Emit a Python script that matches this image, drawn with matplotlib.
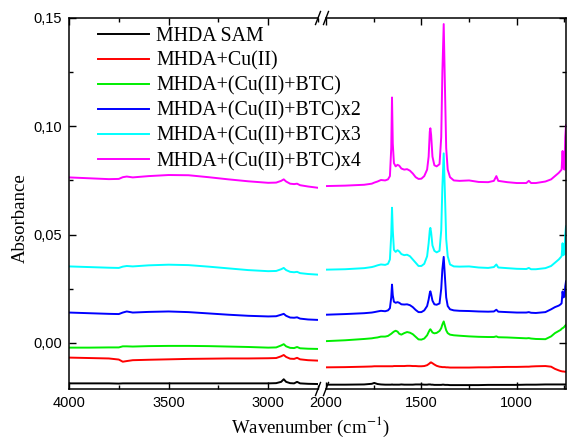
import numpy as np
import matplotlib
matplotlib.use("Agg")
import matplotlib.pyplot as plt
from matplotlib.ticker import MultipleLocator, FuncFormatter

plt.rcParams["font.family"] = ["Liberation Sans", "DejaVu Sans"]
plt.rcParams["mathtext.fontset"] = "stix"

labels = ["MHDA SAM", "MHDA+Cu(II)", "MHDA+(Cu(II)+BTC)", "MHDA+(Cu(II)+BTC)x2",
          "MHDA+(Cu(II)+BTC)x3", "MHDA+(Cu(II)+BTC)x4"]
colors = ["#000000", "#ff0000", "#00ee00", "#0000ff", "#00ffff", "#ff00ff"]

# high-wavenumber segment (4000 - 2750 cm-1)
wn_hi = [4000, 3900, 3800, 3750, 3730, 3710, 3680, 3600, 3500, 3400, 3300, 3200,
         3100, 3000, 2960, 2935, 2922, 2910, 2890, 2870, 2855, 2840, 2800, 2750]
black_hi = [-0.0187, -0.0187, -0.0187, -0.0188, -0.0187, -0.0187, -0.0187, -0.0187, -0.0187, -0.0187, -0.0187, -0.0187,
            -0.0187, -0.0187, -0.0186, -0.0180, -0.0168, -0.0180, -0.0186, -0.0187, -0.0180, -0.0187, -0.0189, -0.0190]
red_hi = [-0.0068, -0.0070, -0.0072, -0.0077, -0.0087, -0.0084, -0.0080, -0.0078, -0.0076, -0.0074, -0.0073, -0.0072,
          -0.0072, -0.0071, -0.0070, -0.0062, -0.0056, -0.0065, -0.0073, -0.0074, -0.0069, -0.0076, -0.0080, -0.0082]
green_hi = [-0.0022, -0.0022, -0.0021, -0.0021, -0.0016, -0.0016, -0.0017, -0.0015, -0.0014, -0.0014, -0.0015, -0.0017,
            -0.0019, -0.0022, -0.0021, -0.0012, -0.0006, -0.0016, -0.0023, -0.0024, -0.0019, -0.0025, -0.0027, -0.0028]
blue_hi = [0.0140, 0.0137, 0.0134, 0.0133, 0.0140, 0.0145, 0.0140, 0.0143, 0.0145, 0.0142, 0.0136, 0.0130,
           0.0125, 0.0122, 0.0123, 0.0130, 0.0134, 0.0125, 0.0117, 0.0116, 0.0118, 0.0112, 0.0108, 0.0106]
cyan_hi = [0.0353, 0.0350, 0.0347, 0.0346, 0.0352, 0.0355, 0.0353, 0.0358, 0.0361, 0.0359, 0.0352, 0.0344,
           0.0336, 0.0331, 0.0332, 0.0340, 0.0346, 0.0336, 0.0328, 0.0326, 0.0328, 0.0322, 0.0318, 0.0315]
magenta_hi = [0.0764, 0.0760, 0.0756, 0.0757, 0.0765, 0.0768, 0.0764, 0.0770, 0.0775, 0.0774, 0.0765, 0.0755,
              0.0746, 0.0739, 0.0740, 0.0748, 0.0755, 0.0745, 0.0735, 0.0733, 0.0735, 0.0728, 0.0722, 0.0716]

# low-wavenumber segment (2000 - 742 cm-1)
wn_lo = [2000, 1900, 1800, 1760, 1747, 1730, 1712, 1690, 1675, 1665,
         1658, 1654, 1650, 1644, 1635, 1625, 1616, 1605, 1590, 1575,
         1560, 1545, 1530, 1515, 1500, 1485, 1470, 1462, 1456, 1453,
         1449, 1442, 1432, 1420, 1405, 1396, 1390, 1383, 1377, 1370,
         1362, 1350, 1330, 1300, 1250, 1200, 1150, 1120, 1107, 1097,
         1050, 1000, 950, 937, 925, 900, 850, 820, 800, 780,
         770, 765, 760, 756, 750, 746, 742]
black_lo = [-0.0193, -0.0193, -0.0192, -0.0189, -0.0185, -0.0190, -0.0192, -0.0193, -0.0193, -0.0193,
            -0.0193, -0.0192, -0.0193, -0.0193, -0.0193, -0.0193, -0.0193, -0.0192, -0.0193, -0.0193,
            -0.0193, -0.0193, -0.0192, -0.0192, -0.0192, -0.0193, -0.0193, -0.0192, -0.0192, -0.0192,
            -0.0193, -0.0193, -0.0194, -0.0194, -0.0194, -0.0194, -0.0193, -0.0193, -0.0194, -0.0194,
            -0.0194, -0.0195, -0.0195, -0.0195, -0.0195, -0.0195, -0.0194, -0.0194, -0.0194, -0.0194,
            -0.0194, -0.0194, -0.0193, -0.0193, -0.0193, -0.0193, -0.0192, -0.0192, -0.0192, -0.0192,
            -0.0192, -0.0192, -0.0192, -0.0192, -0.0192, -0.0192, -0.0192]
red_lo = [-0.0113, -0.0112, -0.0110, -0.0109, -0.0108, -0.0108, -0.0108, -0.0108, -0.0108, -0.0108,
          -0.0108, -0.0108, -0.0108, -0.0107, -0.0107, -0.0107, -0.0107, -0.0107, -0.0107, -0.0106,
          -0.0106, -0.0107, -0.0107, -0.0108, -0.0108, -0.0107, -0.0103, -0.0098, -0.0094, -0.0091,
          -0.0090, -0.0094, -0.0100, -0.0106, -0.0110, -0.0111, -0.0112, -0.0112, -0.0112, -0.0113,
          -0.0113, -0.0114, -0.0114, -0.0114, -0.0114, -0.0113, -0.0113, -0.0112, -0.0112, -0.0112,
          -0.0111, -0.0111, -0.0110, -0.0110, -0.0109, -0.0108, -0.0107, -0.0110, -0.0120, -0.0127,
          -0.0130, -0.0131, -0.0132, -0.0132, -0.0133, -0.0133, -0.0133]
green_lo = [0.0008, 0.0012, 0.0018, 0.0021, 0.0023, 0.0025, 0.0029, 0.0029, 0.0032, 0.0038,
            0.0042, 0.0045, 0.0048, 0.0052, 0.0056, 0.0052, 0.0042, 0.0038, 0.0045, 0.0050,
            0.0047, 0.0040, 0.0028, 0.0016, 0.0015, 0.0020, 0.0035, 0.0050, 0.0060, 0.0063,
            0.0058, 0.0048, 0.0044, 0.0046, 0.0055, 0.0068, 0.0085, 0.0099, 0.0080, 0.0058,
            0.0045, 0.0038, 0.0035, 0.0033, 0.0030, 0.0028, 0.0027, 0.0027, 0.0030, 0.0026,
            0.0025, 0.0023, 0.0021, 0.0022, 0.0020, 0.0018, 0.0017, 0.0030, 0.0045, 0.0055,
            0.0060, 0.0065, 0.0068, 0.0070, 0.0075, 0.0080, 0.0083]
blue_lo = [0.0130, 0.0133, 0.0137, 0.0140, 0.0142, 0.0145, 0.0148, 0.0146, 0.0150, 0.0160,
           0.0210, 0.0269, 0.0220, 0.0190, 0.0185, 0.0188, 0.0185, 0.0178, 0.0177, 0.0178,
           0.0174, 0.0165, 0.0152, 0.0142, 0.0142, 0.0150, 0.0170, 0.0200, 0.0230, 0.0238,
           0.0225, 0.0195, 0.0178, 0.0176, 0.0182, 0.0250, 0.0340, 0.0397, 0.0310, 0.0210,
           0.0170, 0.0155, 0.0150, 0.0148, 0.0147, 0.0145, 0.0144, 0.0145, 0.0153, 0.0144,
           0.0142, 0.0140, 0.0140, 0.0142, 0.0139, 0.0138, 0.0142, 0.0155, 0.0165, 0.0172,
           0.0178, 0.0183, 0.0237, 0.0210, 0.0214, 0.0260, 0.0284]
cyan_lo = [0.0338, 0.0340, 0.0345, 0.0350, 0.0353, 0.0358, 0.0362, 0.0360, 0.0365, 0.0385,
           0.0500, 0.0624, 0.0520, 0.0430, 0.0420, 0.0428, 0.0422, 0.0410, 0.0405, 0.0407,
           0.0400, 0.0385, 0.0370, 0.0355, 0.0355, 0.0365, 0.0400, 0.0460, 0.0520, 0.0531,
           0.0510, 0.0450, 0.0425, 0.0418, 0.0425, 0.0520, 0.0720, 0.0875, 0.0700, 0.0480,
           0.0400, 0.0362, 0.0353, 0.0352, 0.0353, 0.0348, 0.0346, 0.0350, 0.0362, 0.0348,
           0.0345, 0.0342, 0.0341, 0.0346, 0.0340, 0.0340, 0.0345, 0.0355, 0.0370, 0.0385,
           0.0395, 0.0400, 0.0460, 0.0405, 0.0410, 0.0500, 0.0538]
magenta_lo = [0.0724, 0.0726, 0.0730, 0.0735, 0.0740, 0.0745, 0.0752, 0.0750, 0.0755, 0.0770,
              0.0900, 0.1133, 0.0920, 0.0830, 0.0815, 0.0822, 0.0818, 0.0805, 0.0800, 0.0802,
              0.0795, 0.0782, 0.0765, 0.0757, 0.0758, 0.0770, 0.0800, 0.0860, 0.0975, 0.0991,
              0.0960, 0.0860, 0.0820, 0.0815, 0.0825, 0.0950, 0.1250, 0.1472, 0.1200, 0.0900,
              0.0800, 0.0765, 0.0750, 0.0748, 0.0750, 0.0743, 0.0742, 0.0748, 0.0770, 0.0748,
              0.0742, 0.0738, 0.0738, 0.0748, 0.0738, 0.0738, 0.0745, 0.0755, 0.0770, 0.0785,
              0.0795, 0.0800, 0.0886, 0.0810, 0.0800, 0.0950, 0.1005]

series_hi = [black_hi, red_hi, green_hi, blue_hi, cyan_hi, magenta_hi]
series_lo = [black_lo, red_lo, green_lo, blue_lo, cyan_lo, magenta_lo]

W, H = 570, 440
fig = plt.figure(figsize=(W / 100, H / 100), dpi=100)
bot, top = 389, 18
ax1 = fig.add_axes([69 / W, 1 - bot / H, (318 - 69) / W, (bot - top) / H])
ax2 = fig.add_axes([326 / W, 1 - bot / H, (566 - 326) / W, (bot - top) / H])
ax2.patch.set_alpha(0)

handles = []
for c, lab, yh, yl in zip(colors, labels, series_hi, series_lo):
    h, = ax1.plot(wn_hi, yh, color=c, lw=1.4, label=lab)
    ax2.plot(wn_lo, yl, color=c, lw=1.4)
    handles.append(h)

ax1.set_xlim(4000, 2750)
ax2.set_xlim(2000, 742)
comma = FuncFormatter(lambda v, p: ("%.2f" % v).replace(".", ","))
for ax in (ax1, ax2):
    ax.set_ylim(-0.0213, 0.15)
    ax.xaxis.set_major_locator(MultipleLocator(500))
    ax.xaxis.set_minor_locator(MultipleLocator(250))
    ax.yaxis.set_major_locator(MultipleLocator(0.05))
    ax.yaxis.set_minor_locator(MultipleLocator(0.025))
    ax.tick_params(which="both", direction="in", top=True, right=True, width=1.0,
                   labelsize=10.5, pad=5)
    ax.tick_params(which="major", length=5)
    ax.tick_params(which="minor", length=3)
    for s in ax.spines.values():
        s.set_linewidth(1.1)
ax1.yaxis.set_major_formatter(comma)
ax1.spines["right"].set_visible(False)
ax1.tick_params(which="both", right=False)
ax2.spines["left"].set_visible(False)
ax2.tick_params(which="both", left=False, labelleft=False)

# axis break marks
for ax, xb in ((ax1, 1.0), (ax2, 0.0)):
    bb = ax.get_position()
    dx = 2.5 / (bb.width * W)
    dy = 6.5 / (bb.height * H)
    for yb in (0.0, 1.0):
        ax.plot([xb - dx, xb + dx], [yb - dy, yb + dy], transform=ax.transAxes,
                color="k", lw=1.0, clip_on=False)

fig.text(310 / W, 1 - 427 / H, "Wavenumber (cm$^{-1}$)", ha="center", va="center",
         fontsize=13.5, family="Liberation Serif")
fig.text(20 / W, 1 - 218 / H, "Absorbance", ha="center", va="center", rotation=90,
         fontsize=13.5, family="Liberation Serif")

fig.legend(handles=handles, loc="upper left", bbox_to_anchor=(90 / W, 1 - 19 / H),
           frameon=False, prop={"family": "Liberation Serif", "size": 14.3},
           handlelength=2.55, handletextpad=0.38, labelspacing=0.29, borderaxespad=0)

fig.savefig("out.png", dpi=100)
